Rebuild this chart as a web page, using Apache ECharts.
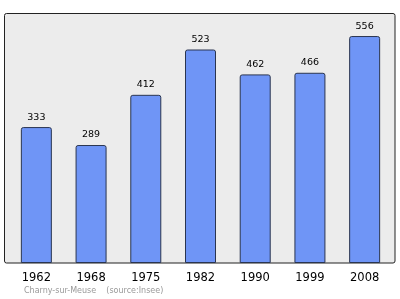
<!DOCTYPE html>
<html><head><meta charset="utf-8">
<script src="https://cdn.jsdelivr.net/npm/echarts@6/dist/echarts.min.js"></script>
<style>html,body{margin:0;padding:0;background:#fff}#c{width:400px;height:299px}</style>
</head><body><div id="c"></div>
<script>
const years = ['1962','1968','1975','1982','1990','1999','2008'];
const population = [333, 289, 412, 523, 462, 466, 556];
const sourceText = 'Charny-sur-Meuse    (source:Insee)';

const chart = echarts.init(document.getElementById('c'), null, {renderer:'canvas'});
chart.setOption({
  animation: false,
  backgroundColor: '#ffffff',
  graphic: [
    {type:'rect', shape:{x:4.5, y:13.5, width:390.5, height:249.5, r:2}, style:{fill:'#ececec', stroke:'#222', lineWidth:1}, z:-10},
    {type:'text', left:24, top:287, style:{text:sourceText, fill:'#999', font:'8px "DejaVu Sans", sans-serif'}}
  ],
  grid: {left:9, right:8, top:14, bottom:36},
  xAxis: {
    type:'category', data: years,
    axisLine:{show:false}, axisTick:{show:false},
    axisLabel:{color:'#000', fontSize:11.5, fontFamily:'DejaVu Sans', margin:9}
  },
  yAxis: {type:'value', min:0, max:610, show:false, splitLine:{show:false}},
  series: [{
    type:'bar', data: population, barWidth:31,
    itemStyle:{color:'#6f95f6', borderColor:'#2a3550', borderWidth:1, borderRadius:[2,2,0,0]},
    label:{show:true, position:'top', distance:5, color:'#000', fontSize:9.5, fontFamily:'DejaVu Sans'}
  }]
});
</script></body></html>
